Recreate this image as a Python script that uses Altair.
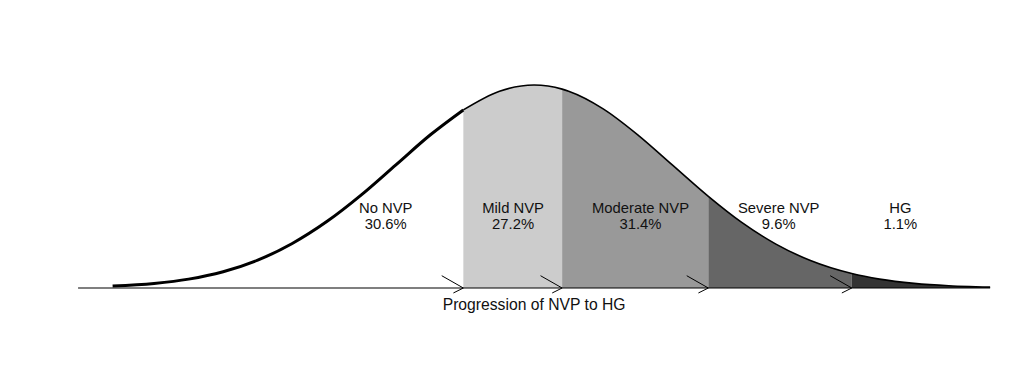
import altair as alt
import pandas as pd

# Curve (x in SD units, height of the bell)
z_pts = [-3.05, -2.75, -2.5, -2.25, -2.0, -1.75, -1.5, -1.25, -1.0, -0.75, -0.512,
         -0.25, 0.0, 0.203, 0.25, 0.5, 0.75, 1.0, 1.261, 1.5, 1.75, 2.0, 2.299,
         2.5, 2.75, 3.0, 3.15, 3.3]
density = [0.0038, 0.0091, 0.0175, 0.0320, 0.0548, 0.0875, 0.1305, 0.1830, 0.2420,
           0.3011, 0.3499, 0.3867, 0.3989, 0.3908, 0.3867, 0.3521, 0.3011, 0.2420,
           0.1802, 0.1295, 0.0863, 0.0540, 0.0284, 0.0175, 0.0091, 0.0044, 0.0028,
           0.0017]

categories = ["No NVP", "Mild NVP", "Moderate NVP", "Severe NVP", "HG"]
percents = ["30.6%", "27.2%", "31.4%", "9.6%", "1.1%"]
edges = [-3.05, -0.512, 0.203, 1.261, 2.299, 3.3]
label_x = [-1.074, -0.152, 0.77, 1.77, 2.65]
baseline_ext = [-3.3, 3.3]
axis_text = "Progression of NVP to HG"

shade_colors = ["#cccccc", "#999999", "#666666", "#333333"]

# Area rows for the shaded categories
area_rows = []
for i in range(1, 5):
    for z, d in zip(z_pts, density):
        if edges[i] - 1e-9 <= z <= edges[i + 1] + 1e-9:
            area_rows.append({"z": z, "d": d, "cat": categories[i]})
area_df = pd.DataFrame(area_rows)

thick_df = pd.DataFrame([{"z": z, "d": d} for z, d in zip(z_pts, density) if z <= edges[1] + 1e-9])
thin_df = pd.DataFrame([{"z": z, "d": d} for z, d in zip(z_pts, density) if z >= edges[1] - 1e-9])

label_df = pd.DataFrame({
    "x": label_x,
    "txt": [c + "\n" + p for c, p in zip(categories, percents)],
})
arrow_df = pd.DataFrame({"x": edges[1:5], "y": [0.0] * 4})
base_df = pd.DataFrame({"x": [baseline_ext[0]], "x2": [baseline_ext[1]], "y": [0.0]})
axis_df = pd.DataFrame({"x": [0.0], "y": [-0.0432], "t": [axis_text]})

xs = alt.Scale(domain=[-3.807, 3.538], nice=False, zero=False)
ys = alt.Scale(domain=[-0.1886, 0.5502], nice=False, zero=False)
X = lambda f: alt.X(f, type="quantitative", scale=xs, axis=None)
Y = lambda f: alt.Y(f, type="quantitative", scale=ys, axis=None)

areas = alt.Chart(area_df).mark_area(interpolate="monotone", opacity=1).encode(
    x=X("z"), y=Y("d"), y2=alt.datum(0),
    color=alt.Color("cat:N", scale=alt.Scale(domain=categories[1:], range=shade_colors), legend=None),
    detail="cat:N",
)

base = alt.Chart(base_df).mark_rule(color="black", strokeWidth=1.2).encode(
    x=X("x"), x2="x2", y=Y("y")
)

arrows = alt.Chart(arrow_df).mark_point(
    shape="M -1 -0.57 L 0 0 L -0.46 0.23", filled=False, color="black",
    strokeWidth=1, size=1866, opacity=1
).encode(x=X("x"), y=Y("y"))

thick = alt.Chart(thick_df).mark_line(interpolate="monotone", color="black", strokeWidth=3).encode(
    x=X("z"), y=Y("d")
)
thin = alt.Chart(thin_df).mark_line(interpolate="monotone", color="black", strokeWidth=1.6).encode(
    x=X("z"), y=Y("d")
)

labels = alt.Chart(label_df).mark_text(
    font="Liberation Sans", fontSize=14.8, lineBreak="\n", lineHeight=16.5,
    align="center", baseline="alphabetic", color="#111111"
).encode(x=X("x"), y=alt.Y("y:Q", scale=ys, axis=None), text="txt:N").transform_calculate(y="0.1474")

axis_lbl = alt.Chart(axis_df).mark_text(
    font="Liberation Sans", fontSize=15.7, align="center", baseline="alphabetic", color="#111111"
).encode(x=X("x"), y=Y("y"), text="t:N")

chart = alt.layer(areas, base, arrows, thick, thin, labels, axis_lbl).properties(
    width=1015, height=376, padding=0,
    autosize=alt.AutoSizeParams(type="fit", contains="padding"),
    background="white",
).configure_view(stroke=None)

chart.save("out.html", embed_options={"renderer": "svg", "actions": False})
